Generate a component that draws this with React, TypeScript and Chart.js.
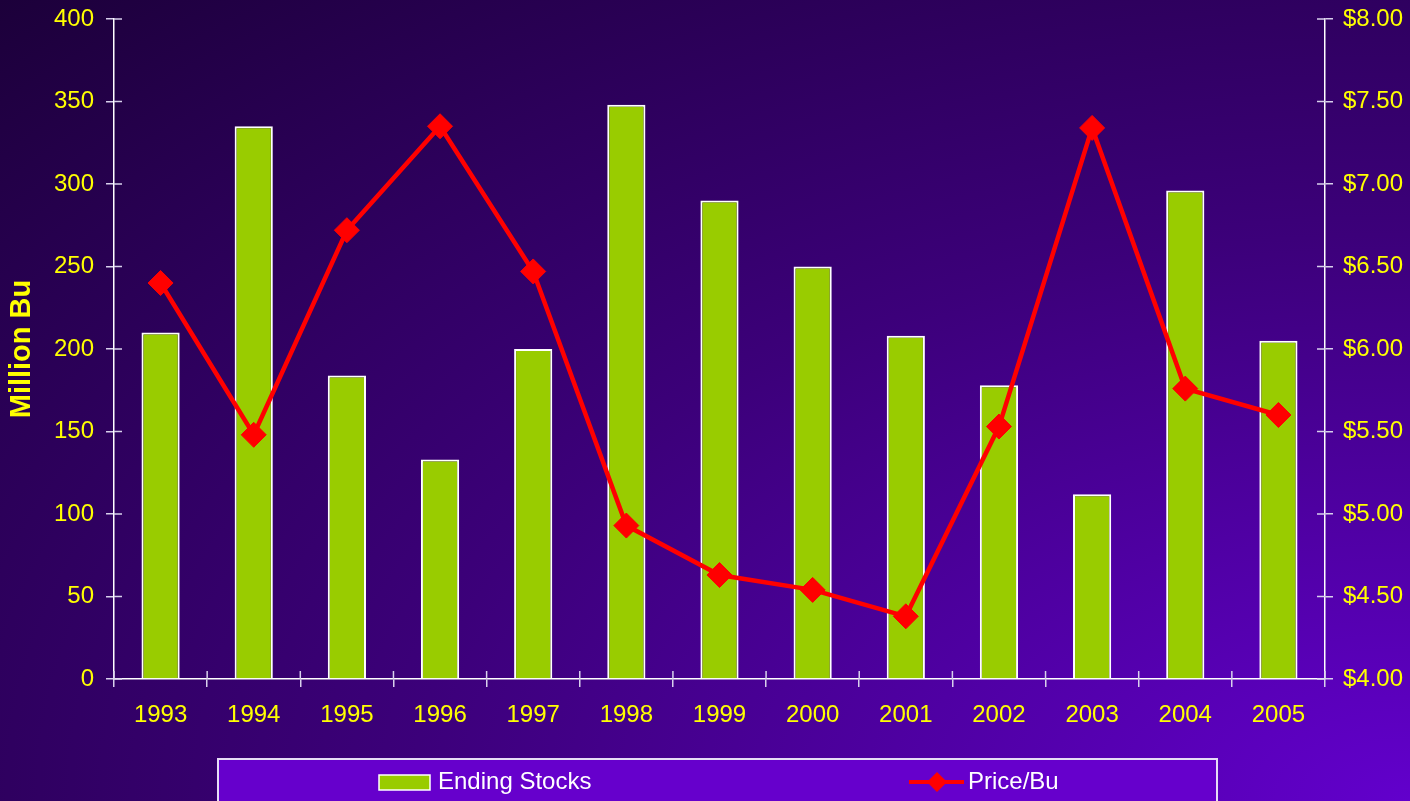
import React, { useEffect, useRef } from "react";
import { Chart, registerables } from "chart.js";

Chart.register(...registerables);

const years = ["1993", "1994", "1995", "1996", "1997", "1998", "1999", "2000", "2001", "2002", "2003", "2004", "2005"];
const endingStocks = [210, 335, 184, 133, 200, 348, 290, 250, 208, 178, 112, 296, 205];
const pricePerBu = [6.4, 5.48, 6.72, 7.35, 6.47, 4.93, 4.63, 4.54, 4.38, 5.53, 7.34, 5.76, 5.6];
const stocksLabel = "Ending Stocks";
const priceLabel = "Price/Bu";
const leftAxisTitle = "Million Bu";

const FONT = "'Liberation Sans', Arial, sans-serif";
const YELLOW = "#ffff00";
const TICK_COLOR = "#d8d0ec";
const BAR_COLOR = "#99cc00";
const LINE_COLOR = "#ff0000";

const innerTicks = {
  id: "innerTicks",
  afterDatasetsDraw(chart: any) {
    const { ctx, chartArea, scales } = chart;
    ctx.save();
    ctx.strokeStyle = TICK_COLOR;
    ctx.lineWidth = 1.5;
    const seg = (x1: number, y1: number, x2: number, y2: number) => {
      ctx.beginPath();
      ctx.moveTo(x1, y1);
      ctx.lineTo(x2, y2);
      ctx.stroke();
    };
    scales.y.ticks.forEach((_: any, i: number) => {
      const p = scales.y.getPixelForTick(i);
      seg(chartArea.left, p, chartArea.left + 8, p);
    });
    scales.y1.ticks.forEach((_: any, i: number) => {
      const p = scales.y1.getPixelForTick(i);
      seg(chartArea.right - 8, p, chartArea.right, p);
    });
    for (let i = 0; i <= years.length; i++) {
      const p = scales.x.getPixelForValue(i - 0.5);
      seg(p, chartArea.bottom - 8, p, chartArea.bottom);
    }
    ctx.restore();
  },
};

const boxLegend = {
  id: "boxLegend",
  afterDraw(chart: any) {
    const { ctx } = chart;
    const ds = chart.data.datasets;
    ctx.save();
    ctx.fillStyle = "#6600cc";
    ctx.fillRect(218, 759, 999, 60);
    ctx.strokeStyle = "#e6dcf6";
    ctx.lineWidth = 2;
    ctx.strokeRect(218, 759, 999, 60);

    const cy = 782;
    // bar item
    ctx.fillStyle = ds[0].backgroundColor;
    ctx.fillRect(379, 775, 51, 15);
    ctx.strokeStyle = "#ffffff";
    ctx.lineWidth = 1.5;
    ctx.strokeRect(379, 775, 51, 15);
    ctx.fillStyle = "#ffffff";
    ctx.font = `24px ${FONT}`;
    ctx.textBaseline = "middle";
    ctx.textAlign = "left";
    ctx.fillText(ds[0].label, 438, cy);

    // line item
    ctx.strokeStyle = ds[1].borderColor;
    ctx.lineWidth = 4;
    ctx.beginPath();
    ctx.moveTo(909, cy);
    ctx.lineTo(964, cy);
    ctx.stroke();
    ctx.fillStyle = ds[1].pointBackgroundColor;
    const r = 10;
    ctx.beginPath();
    ctx.moveTo(937 - r, cy);
    ctx.lineTo(937, cy - r);
    ctx.lineTo(937 + r, cy);
    ctx.lineTo(937, cy + r);
    ctx.closePath();
    ctx.fill();
    ctx.fillStyle = "#ffffff";
    ctx.fillText(ds[1].label, 968, cy);
    ctx.restore();
  },
};

const fitVertical = (w: number) => (s: any) => {
  s.width = w;
  s.paddingTop = 0;
  s.paddingBottom = 0;
};

export default function App() {
  const canvasRef = useRef<HTMLCanvasElement | null>(null);

  useEffect(() => {
    if (!canvasRef.current) return;
    const chart = new Chart(canvasRef.current, {
      type: "bar",
      data: {
        labels: years,
        datasets: [
          {
            type: "bar",
            label: stocksLabel,
            data: endingStocks,
            backgroundColor: BAR_COLOR,
            borderColor: "#ffffff",
            borderWidth: 2,
            barPercentage: 0.41,
            categoryPercentage: 1,
            yAxisID: "y",
            order: 1,
          },
          {
            type: "line",
            label: priceLabel,
            data: pricePerBu,
            borderColor: LINE_COLOR,
            backgroundColor: LINE_COLOR,
            borderWidth: 4.5,
            tension: 0,
            pointStyle: "rectRot",
            pointRadius: 12.5,
            pointBackgroundColor: LINE_COLOR,
            pointBorderColor: LINE_COLOR,
            pointBorderWidth: 1,
            yAxisID: "y1",
            order: 0,
          },
        ] as any,
      },
      options: {
        animation: false,
        responsive: false,
        devicePixelRatio: 1,
        layout: { padding: { top: 19, left: 0, right: 0, bottom: 0 } },
        plugins: {
          legend: { display: false },
          tooltip: { enabled: false },
        },
        scales: {
          x: {
            grid: { offset: true, drawOnChartArea: false, tickLength: 8, color: TICK_COLOR, lineWidth: 1.5 },
            border: { color: "#ffffff", width: 1.5 },
            ticks: { color: YELLOW, font: { family: FONT, size: 24 }, padding: 14, maxRotation: 0 },
            afterFit: (s: any) => {
              s.height = 122;
              s.paddingLeft = 0;
              s.paddingRight = 0;
            },
          },
          y: {
            position: "left",
            min: 0,
            max: 400,
            grid: { drawOnChartArea: false, tickLength: 8, color: TICK_COLOR, lineWidth: 1.5 },
            border: { color: "#ffffff", width: 1.5 },
            ticks: { stepSize: 50, color: YELLOW, font: { family: FONT, size: 24 }, padding: 12 },
            title: {
              display: true,
              text: leftAxisTitle,
              color: YELLOW,
              font: { family: FONT, size: 29, weight: "bold" },
              padding: { top: 5, bottom: 0 },
            },
            afterFit: fitVertical(114),
          },
          y1: {
            position: "right",
            min: 4,
            max: 8,
            grid: { drawOnChartArea: false, tickLength: 8, color: TICK_COLOR, lineWidth: 1.5 },
            border: { color: "#ffffff", width: 1.5 },
            ticks: {
              stepSize: 0.5,
              color: YELLOW,
              font: { family: FONT, size: 24 },
              padding: 10,
              callback: (v: any) => "$" + Number(v).toFixed(2),
            },
            afterFit: fitVertical(85),
          },
        },
      } as any,
      plugins: [innerTicks, boxLegend],
    });
    return () => chart.destroy();
  }, []);

  return (
    <div
      style={{
        position: "fixed",
        left: 0,
        top: 0,
        width: 1410,
        height: 801,
        overflow: "hidden",
        background:
          "radial-gradient(farthest-corner at 100% 100%, #6200cc 0%, #3c007a 50%, #1c003a 100%)",
      }}
    >
      <canvas ref={canvasRef} width={1410} height={801} style={{ display: "block" }} />
    </div>
  );
}
